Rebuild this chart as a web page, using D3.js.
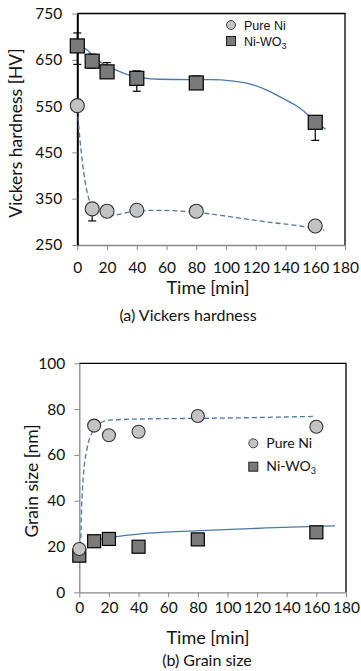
<!DOCTYPE html>
<html>
<head>
<meta charset="utf-8">
<script src="https://cdn.jsdelivr.net/npm/d3@7"></script>
<style>
  body { margin: 0; background: #fff; }
  svg { display: block; }
  text { font-family: Lato, "Open Sans", sans-serif; fill: #111; }
</style>
</head>
<body>
<svg width="361" height="671"></svg>
<script>
// ---- data ----
const times = [0, 10, 20, 40, 80, 160];

// (a) Vickers hardness [HV]
const hvPureNi = [551, 328, 323, 325, 323, 291];
const hvPureNiErrUp = [0, 8, 0, 0, 0, 0];
const hvPureNiErrDown = [0, 26, 0, 0, 0, 0];
const hvNiWO3 = [680, 647, 624, 610, 600, 515];
const hvNiWO3ErrUp = [28, 15, 20, 16, 15, 10];
const hvNiWO3ErrDown = [40, 15, 10, 28, 10, 39];

// trend lines (sampled along the drawn curves)
const hvPureNiTrend = [[0, 545], [1.8, 477], [5.1, 390], [7.4, 354], [10, 333], [14, 318], [20, 313], [28, 316], [38, 323], [55, 325], [70, 323], [82, 320], [105, 310], [127, 300], [150, 291], [166, 282]];
const hvNiWO3Trend = [[0, 683], [5, 675], [15, 646], [24, 631], [35, 617], [55, 608], [76, 607], [89, 607], [105, 604], [118, 596], [127, 585], [138, 567], [150, 545], [159, 520], [167, 500]];

// (b) Grain size [nm]
const gsPureNi = [18.9, 72.8, 68.6, 70.1, 77.0, 72.3];
const gsNiWO3 = [16.0, 22.3, 23.3, 19.9, 23.1, 26.2];

const gsPureNiTrend = [[0.9, 20], [1.6, 37.4], [2.7, 50.5], [5, 62], [8.4, 69.4], [14, 73.8], [20.7, 75.2], [43, 75.7], [88, 76], [158, 76.8]];
const gsNiWO3Trend = [[10.6, 22.5], [25, 24.3], [41, 25.5], [81.5, 26.9], [126.5, 28.1], [172.6, 29]];

const xTicks = d3.range(0, 181, 20);
const hvTicks = [250, 350, 450, 550, 650, 750];
const gsTicks = [0, 20, 40, 60, 80, 100];

const trendColor = "#4d78a8";
const circleFill = "#c3c3c3";
const squareFill = "#7a7a7a";

const svg = d3.select("svg");

function drawPanel(opt) {
  const x = d3.scaleLinear().domain([0, 180]).range([opt.x0, opt.x1]);
  const y = d3.scaleLinear().domain(opt.yDomain).range([opt.y0, opt.y1]);
  const g = svg.append("g");

  // box: top and right black
  g.append("path")
    .attr("d", `M${opt.x0},${opt.y1}H${opt.x1}V${opt.y0}`)
    .attr("fill", "none").attr("stroke", "#000").attr("stroke-width", 1.3);

  const xAxis = g.append("g")
    .attr("transform", `translate(0,${opt.y0})`)
    .call(d3.axisBottom(x).tickValues(xTicks).tickSizeInner(5).tickSizeOuter(0).tickPadding(opt.xPad));
  xAxis.select(".domain").attr("stroke", "#888").attr("stroke-width", 1.3);
  xAxis.selectAll(".tick line").attr("stroke", "#888");
  xAxis.selectAll("text").style("font-size", "15.5px").attr("fill", "#111")
    .style("font-family", "Lato, sans-serif");

  const yAxis = g.append("g")
    .attr("transform", `translate(${opt.x0},0)`)
    .call(d3.axisLeft(y).tickValues(opt.yTicks).tickSizeInner(5).tickSizeOuter(0).tickPadding(opt.yPad));
  yAxis.select(".domain").attr("stroke", opt.yAxisColor).attr("stroke-width", opt.yAxisWidth);
  yAxis.selectAll(".tick line").attr("stroke", "#888");
  yAxis.selectAll("text").style("font-size", "15.5px").attr("fill", "#111")
    .style("font-family", "Lato, sans-serif");

  // trend lines
  const line = d3.line().x(d => x(d[0])).y(d => y(d[1])).curve(d3.curveMonotoneX);
  g.append("path").datum(opt.solidTrend)
    .attr("d", line).attr("fill", "none").attr("stroke", trendColor).attr("stroke-width", 1.3);
  g.append("path").datum(opt.dashTrend)
    .attr("d", line).attr("fill", "none").attr("stroke", trendColor).attr("stroke-width", 1.3)
    .attr("stroke-dasharray", "5,3");

  // error bars (drawn under the markers)
  const errs = [];
  opt.errSets.forEach(s => s.vals.forEach((v, i) => {
    if (s.up[i] > 0 || s.down[i] > 0) errs.push({ t: times[i], lo: v - s.down[i], hi: v + s.up[i] });
  }));
  const eb = g.append("g").selectAll("g").data(errs).join("g");
  eb.append("line")
    .attr("x1", d => x(d.t)).attr("x2", d => x(d.t))
    .attr("y1", d => y(d.lo)).attr("y2", d => y(d.hi))
    .attr("stroke", "#000").attr("stroke-width", 1.2);
  ["lo", "hi"].forEach(k => {
    eb.append("line")
      .attr("x1", d => x(d.t) - 4).attr("x2", d => x(d.t) + 4)
      .attr("y1", d => y(d[k])).attr("y2", d => y(d[k]))
      .attr("stroke", "#000").attr("stroke-width", 1.2);
  });

  // markers
  const s = opt.markerSize;
  g.append("g").selectAll("rect").data(opt.squares).join("rect")
    .attr("x", (d, i) => x(times[i]) - s / 2).attr("y", d => y(d) - s / 2)
    .attr("width", s).attr("height", s)
    .attr("fill", squareFill).attr("stroke", "#000").attr("stroke-width", 1.2);
  g.append("g").selectAll("circle").data(opt.circles).join("circle")
    .attr("cx", (d, i) => x(times[i])).attr("cy", d => y(d)).attr("r", s / 2)
    .attr("fill", circleFill).attr("stroke", "#333").attr("stroke-width", 1.1);

  // axis titles
  g.append("text").attr("x", opt.xTitle[0]).attr("y", opt.xTitle[1])
    .attr("text-anchor", "middle").style("font-size", "18px").text("Time [min]");
  g.append("text")
    .attr("transform", `translate(${opt.yTitle[0]},${opt.yTitle[1]}) rotate(-90)`)
    .attr("text-anchor", "middle").style("font-size", "17.5px").text(opt.yLabel);
  g.append("text").attr("x", opt.caption[0]).attr("y", opt.caption[1])
    .attr("text-anchor", "middle").style("font-size", "16px").text(opt.captionText);

  // legend
  const lg = g.append("g").attr("transform", `translate(${opt.legend[0]},${opt.legend[1]})`);
  lg.append("circle").attr("cx", 0).attr("cy", 0).attr("r", 4.5)
    .attr("fill", circleFill).attr("stroke", "#444").attr("stroke-width", 1);
  lg.append("text").attr("x", 13).attr("y", 4.5).style("font-size", opt.legendFont)
    .style("font-family", opt.legendFamily).text("Pure Ni");
  lg.append("rect").attr("x", -4.5).attr("y", opt.legendGap - 4.5).attr("width", 9).attr("height", 9)
    .attr("fill", squareFill).attr("stroke", "#222").attr("stroke-width", 1);
  const t2 = lg.append("text").attr("x", 13).attr("y", opt.legendGap + 4.5)
    .style("font-size", opt.legendFont).style("font-family", opt.legendFamily);
  t2.append("tspan").text("Ni-WO");
  t2.append("tspan").attr("dy", 3).style("font-size", "9px").text("3");
}

drawPanel({
  x0: 77.3, x1: 345, y0: 245, y1: 13.5,
  yDomain: [250, 750], yTicks: hvTicks,
  xPad: 12, yPad: 10, yAxisColor: "#000", yAxisWidth: 2,
  solidTrend: hvNiWO3Trend, dashTrend: hvPureNiTrend,
  errSets: [{ vals: hvNiWO3, up: hvNiWO3ErrUp, down: hvNiWO3ErrDown },
            { vals: hvPureNi, up: hvPureNiErrUp, down: hvPureNiErrDown }],
  squares: hvNiWO3, circles: hvPureNi, markerSize: 14,
  xTitle: [208, 294], yTitle: [22, 133], yLabel: "Vickers hardness [HV]",
  caption: [188, 321], captionText: "(a) Vickers hardness",
  legend: [231, 25], legendGap: 16, legendFont: "12.5px", legendFamily: "'Liberation Sans', Arial, sans-serif"
});

drawPanel({
  x0: 79.3, x1: 346, y0: 592.3, y1: 363.3,
  yDomain: [0, 100], yTicks: gsTicks,
  xPad: 5, yPad: 9, yAxisColor: "#888", yAxisWidth: 1.3,
  solidTrend: gsNiWO3Trend, dashTrend: gsPureNiTrend,
  errSets: [],
  squares: gsNiWO3, circles: gsPureNi, markerSize: 13,
  xTitle: [208, 644], yTitle: [38, 481], yLabel: "Grain size [nm]",
  caption: [207, 666], captionText: "(b) Grain size",
  legend: [253.3, 443.3], legendGap: 23.4, legendFont: "14px", legendFamily: "Lato, sans-serif"
});
</script>
</body>
</html>
